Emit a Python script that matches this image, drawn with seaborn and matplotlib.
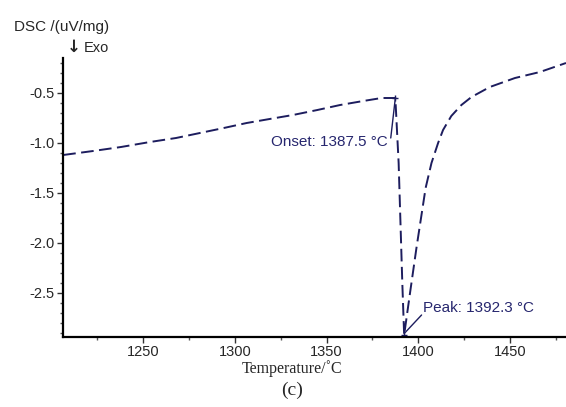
import matplotlib
matplotlib.use("Agg")
import matplotlib.pyplot as plt
from matplotlib.ticker import MultipleLocator
import pandas as pd
import seaborn as sns

# DSC heating trace around the melting event
temperature = [1206.5, 1222.8, 1238.0, 1253.8, 1268.0, 1281.0, 1294.0, 1306.5, 1319.0,
               1331.7, 1345.0, 1357.4, 1370.0, 1380.0, 1387.5,
               1389.3, 1390.3, 1391.3, 1392.3,
               1395.5, 1399.0, 1401.5, 1404.0, 1407.2, 1410.8, 1413.5, 1418.0,
               1423.5, 1429.0, 1439.0, 1452.7, 1466.3, 1480.5]
dsc = [-1.12, -1.08, -1.04, -0.99, -0.95, -0.90, -0.85, -0.80, -0.76,
       -0.72, -0.67, -0.62, -0.58, -0.55, -0.55,
       -1.20, -1.80, -2.40, -2.92,
       -2.50, -2.05, -1.75, -1.45, -1.20, -1.00, -0.87, -0.73,
       -0.62, -0.54, -0.44, -0.35, -0.29, -0.20]

onset_temp, onset_val = 1387.5, -0.55
peak_temp, peak_val = 1392.3, -2.92

x_ticks = [1250, 1300, 1350, 1400, 1450]
y_ticks = [-0.5, -1.0, -1.5, -2.0, -2.5]

line_color = "#1d1d5e"
text_color = "#26266e"

sns.set_style("ticks")
plt.rcParams["font.family"] = ["Liberation Sans", "DejaVu Sans"]

fig = plt.figure(figsize=(5.66, 4.07), dpi=100)
ax = fig.add_axes([63 / 566, 70 / 407, 503 / 566, 279 / 407])

df = pd.DataFrame({"Temperature": temperature, "DSC": dsc})
sns.lineplot(data=df, x="Temperature", y="DSC", ax=ax, sort=False, estimator=None,
             color=line_color, linewidth=1.4, linestyle=(0, (6.5, 2.8)))

# characteristic points and their leader lines
ax.plot([onset_temp], [onset_val], marker="+", color=line_color, ms=5, mew=1)
ax.plot([peak_temp], [peak_val], marker="+", color=line_color, ms=5, mew=1)
ax.plot([1385.0, onset_temp], [-0.95, onset_val], color=line_color, lw=1)
ax.plot([1401.8, peak_temp + 0.3], [-2.72, peak_val + 0.02], color=line_color, lw=1)

ax.text(1383.3, -0.99, f"Onset: {onset_temp} °C", ha="right", va="center",
        fontsize=11, color=text_color)
ax.text(1402.5, -2.65, f"Peak: {peak_temp} °C", ha="left", va="center",
        fontsize=11, color=text_color)

ax.set_xlim(1206.4, 1480.5)
ax.set_ylim(-2.94, -0.15)
ax.set_xticks(x_ticks)
ax.set_yticks(y_ticks)
ax.xaxis.set_minor_locator(MultipleLocator(25))
ax.yaxis.set_minor_locator(MultipleLocator(0.1))
ax.tick_params(axis="both", which="major", length=4, width=1, labelsize=10.5,
               pad=2, color="#333333")
ax.tick_params(axis="x", which="major", pad=1.5)
ax.tick_params(axis="both", which="minor", length=2.5, width=1, color="#555555")
ax.set_xticklabels([str(t) for t in x_ticks])
ax.set_yticklabels([f"{t:.1f}" for t in y_ticks])

for side in ("top", "right"):
    ax.spines[side].set_visible(False)
for side in ("left", "bottom"):
    ax.spines[side].set_linewidth(1.6)
    ax.spines[side].set_color("black")

ax.set_xlabel("")
ax.set_ylabel("")

fig.text(14 / 566, 1 - 27 / 407, "DSC /(uV/mg)", ha="left", va="center", fontsize=11)
fig.text(67 / 566, 1 - 47 / 407, "↓", ha="left", va="center", fontsize=12,
         fontweight="bold", family=["DejaVu Sans"])
fig.text(84 / 566, 1 - 48 / 407, "Exo", ha="left", va="center", fontsize=10.5)
fig.text(292 / 566, 1 - 369 / 407, "Temperature/˚C", ha="center", va="center",
         fontsize=11.5, family=["Liberation Serif", "DejaVu Serif"])
fig.text(292 / 566, 1 - 390 / 407, "(c)", ha="center", va="center",
         fontsize=14, family=["Liberation Serif", "DejaVu Serif"])

fig.savefig("out.png", dpi=100)
